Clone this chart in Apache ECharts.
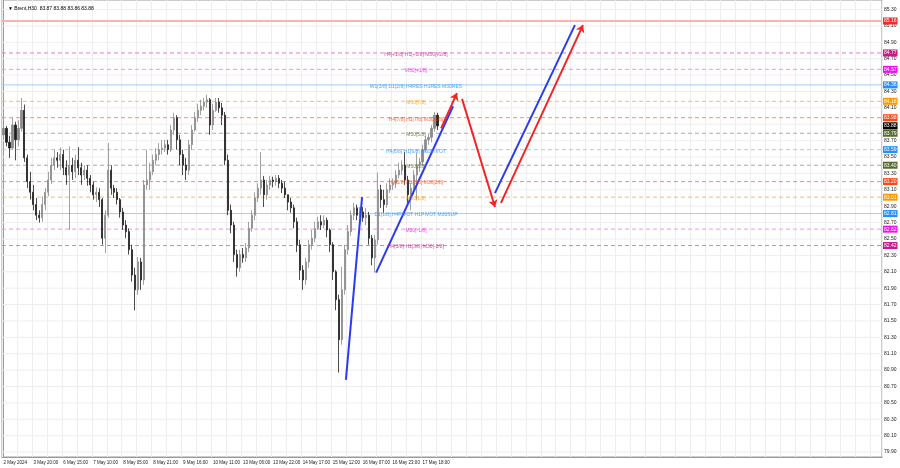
<!DOCTYPE html>
<html><head><meta charset="utf-8">
<script src="https://cdn.jsdelivr.net/npm/echarts@6/dist/echarts.min.js"></script>
<style>html,body{margin:0;padding:0;background:#fff}#c{width:900px;height:468px}</style>
</head><body><div id="c"></div>
<script>
const headerText = '\u25BC Brent,H30  83.87 83.88 83.86 83.88';
const xTickLabels = ['2 May 2024','3 May 20:00','6 May 15:00','7 May 10:00','8 May 05:00','8 May 21:00','9 May 16:00','10 May 11:00','13 May 06:00','13 May 22:00','14 May 17:00','15 May 12:00','16 May 07:00','16 May 23:00','17 May 18:00'];
const slotCount = 294;
const opens = [83.77,83.85,83.68,83.61,83.89,83.71,83.85,84.07,83.49,83.20,
83.07,82.92,82.79,82.76,82.92,83.07,83.22,83.40,83.49,83.46,
83.53,83.37,83.28,83.40,83.32,83.46,83.37,83.28,83.34,83.24,
83.16,83.04,83.07,82.98,82.51,82.79,83.34,83.12,83.07,82.98,
82.83,82.67,82.59,82.37,82.06,81.88,82.22,82.00,83.16,83.22,
83.32,83.46,83.53,83.59,83.61,83.65,83.59,83.83,83.98,83.71,
83.53,83.40,83.34,83.65,83.83,83.98,84.07,84.12,84.17,84.20,
83.89,84.07,84.17,84.10,84.01,83.46,82.85,82.67,82.31,82.15,
82.31,82.27,82.39,82.63,82.79,83.00,83.12,83.22,83.04,83.16,
83.22,83.20,83.24,83.18,83.12,83.04,82.95,82.88,82.71,82.43,
82.12,82.00,82.22,82.43,82.51,82.63,82.71,82.67,82.73,82.61,
82.43,82.10,81.76,81.27,81.88,82.37,82.59,82.79,82.88,82.79,
82.83,82.76,82.79,82.51,82.27,82.49,83.10,82.98,82.92,83.10,
83.16,83.18,83.28,83.34,83.40,83.22,83.04,83.12,83.28,83.40,
83.44,83.59,83.71,83.74,83.85,84.01];
const closes = [83.85,83.68,83.61,83.89,83.71,83.85,84.07,83.49,83.20,83.07,
82.92,82.79,82.76,82.92,83.07,83.22,83.40,83.49,83.46,83.53,
83.37,83.28,83.40,83.32,83.46,83.37,83.28,83.34,83.24,83.16,
83.04,83.07,82.98,82.51,82.79,83.34,83.12,83.07,82.98,82.83,
82.67,82.59,82.37,82.06,81.88,82.22,82.00,83.16,83.22,83.32,
83.46,83.53,83.59,83.61,83.65,83.59,83.83,83.98,83.71,83.53,
83.40,83.34,83.65,83.83,83.98,84.07,84.12,84.17,84.20,83.89,
84.07,84.17,84.10,84.01,83.46,82.85,82.67,82.31,82.15,82.31,
82.27,82.39,82.63,82.79,83.00,83.12,83.22,83.04,83.16,83.22,
83.20,83.24,83.18,83.12,83.04,82.95,82.88,82.71,82.43,82.12,
82.00,82.22,82.43,82.51,82.63,82.71,82.67,82.73,82.61,82.43,
82.10,81.76,81.27,81.88,82.37,82.59,82.79,82.88,82.79,82.83,
82.76,82.79,82.51,82.27,82.49,83.10,82.98,82.92,83.10,83.16,
83.18,83.28,83.34,83.40,83.22,83.04,83.12,83.28,83.40,83.44,
83.59,83.71,83.74,83.85,84.01,83.88];
const highs = [83.92,83.88,83.76,83.98,83.93,83.95,84.22,84.14,83.53,83.32,
83.16,83.00,82.85,83.02,83.12,83.32,83.49,83.59,83.56,83.62,
83.59,83.46,83.63,83.49,83.53,83.62,83.43,83.40,83.40,83.28,
83.20,83.13,83.12,83.00,82.85,83.67,83.40,83.16,83.12,83.00,
82.88,82.73,82.63,82.43,82.15,82.28,82.27,83.22,83.59,83.43,
83.53,83.61,83.67,83.71,83.71,83.71,83.89,84.04,84.01,83.77,
83.59,83.49,83.71,83.89,84.05,84.15,84.20,84.22,84.26,84.22,
84.15,84.22,84.22,84.16,84.05,83.53,82.92,82.71,82.37,82.37,
82.39,82.45,82.71,82.85,83.07,83.18,83.56,83.27,83.22,83.27,
83.26,83.28,83.28,83.22,83.20,83.04,83.00,82.92,82.76,82.49,
82.18,82.27,82.49,82.61,82.71,82.77,82.79,82.79,82.76,82.63,
82.46,82.12,81.82,82.16,82.43,82.67,82.85,82.94,82.92,82.89,
82.89,82.88,82.83,82.55,82.55,83.31,83.16,83.10,83.18,83.24,
83.24,83.34,83.43,83.46,83.56,83.27,83.18,83.34,83.55,83.49,
83.65,83.76,83.79,83.89,84.05,84.04];
const lows = [83.71,83.63,83.49,83.59,83.46,83.63,83.81,83.44,83.12,82.98,
82.85,82.73,82.70,82.71,82.85,83.02,83.17,83.34,83.37,83.34,
83.28,83.16,82.61,83.22,83.24,83.28,83.16,83.22,83.15,83.07,
82.98,82.95,82.89,82.43,82.33,82.76,83.04,83.00,82.92,82.76,
82.61,82.51,82.31,81.98,81.63,81.82,81.88,81.94,83.10,83.10,
83.28,83.40,83.46,83.53,83.56,83.53,83.56,83.77,83.59,83.40,
83.28,83.22,83.28,83.59,83.81,83.93,84.01,84.07,84.10,83.77,
83.83,84.05,84.04,83.89,83.40,82.79,82.57,82.22,82.04,82.10,
82.21,82.22,82.34,82.59,82.73,82.95,83.04,82.89,82.98,83.10,
83.13,83.15,83.12,83.06,83.00,82.85,82.82,82.63,82.34,82.00,
81.88,81.94,82.15,82.37,82.46,82.61,82.61,82.63,82.52,82.34,
82.00,81.63,80.87,81.21,81.82,82.31,82.54,82.73,82.73,82.76,
82.71,82.67,82.43,82.18,82.09,82.43,82.88,82.82,82.88,83.06,
83.10,83.12,83.24,83.28,83.16,82.94,82.85,83.04,82.98,83.32,
83.40,83.56,83.65,83.68,83.81,83.83];
const yTicks = [79.90,80.10,80.30,80.50,80.70,80.90,81.10,81.30,81.50,81.70,81.90,82.10,82.30,82.50,82.70,82.90,83.10,83.30,83.50,83.70,83.90,84.10,84.30,84.50,84.70,84.90,85.10,85.30];
const levelPrices = [85.16,84.77,84.57,84.38,84.18,83.98,83.79,83.59,83.40,83.20,83.01,82.81,82.62,82.42];
const levelTexts = ['','H4[+1/8] H1[+1/8] M30[+2/8]','M30[+1/8]','W1[3/8] D1[2/8] H4RES H1RES M30RES','M30[7/8]','H4[7/8] H1[7/8] M30[6/8]','M30[5/8]','H4[6/8] H1[6/8] M30PIVOT','M30[3/8]','H4[5/8] H1[5/8] M30[2/8]','M30[1/8]','D1[1/8] H4PIVOT H1PIVOT M30SUP','M30[-1/8]','H4[3/8] H1[3/8] M30[-2/8]'];
const levelColors = ['#f42a2a','#c8188c','#f010f0','#2490f8','#ff9800','#ff4814','#556b2f','#2490f8','#556b2f','#ff4814','#ff9800','#2490f8','#f010f0','#c8188c'];
const levelLineColors = ['#ffb0b0','#e07cc4','#ff88ff','#a0ccff','#ffb860','#ff8c68','#aeae98','#a0ccff','#aeae98','#ff8c68','#ffb860','#a0ccff','#ff88ff','#e07cc4'];
const levelLineTypes = ['solid','dashed','dashed','solid','dashed','dashed','dashed','dashed','dashed','dashed','dashed','solid','dashed','dashed'];
const currentPrice = 83.88;
const blueLines = [[[114.4,80.78],[119.8,83.01]],[[124.5,82.09],[150.2,84.12]],[[164.2,83.06],[190.9,85.11]]];
const redArrows = [[[146.2,83.85],[151.5,84.28]],[[153.2,84.21],[164.2,82.89]],[[166.2,82.94],[193.6,85.11]]];
const levelTextSlot = 137.8;

const FONT = 'Liberation Sans';
const categories = [];
for (let i = 0; i < slotCount; i++) categories.push(String(i));
const candleData = opens.map((o, i) => [o, closes[i], lows[i], highs[i]]);
const xLo = -0.5, xHi = slotCount - 0.5;

const boxLabel = (txt, bg) => ({ show: true, distance: 1, formatter: txt, backgroundColor: bg, color: '#ffffff', fontSize: 5, fontFamily: FONT, padding: [1, 1, 0, 1], lineHeight: 6, align: 'left', verticalAlign: 'middle' });

const levelSeries = levelPrices.map((p, k) => ({
  type: 'line', xAxisIndex: 1, yAxisIndex: 0, z: 2, silent: true, symbol: 'none', clip: false,
  data: [[xLo, p], [xHi, p]],
  lineStyle: { color: levelLineColors[k], type: levelLineTypes[k] === 'solid' ? 'solid' : [4, 3], width: k === 0 ? 2 : 1, opacity: 1 },
  endLabel: boxLabel(p.toFixed(2), levelColors[k])
}));
levelSeries.push({
  type: 'line', xAxisIndex: 1, yAxisIndex: 0, z: 2, silent: true, symbol: 'none', clip: false,
  data: [[xLo, currentPrice], [xHi, currentPrice]],
  lineStyle: { width: 0, opacity: 0 },
  endLabel: boxLabel(currentPrice.toFixed(2), '#000000')
});
const gridSeries = yTicks.map(v => ({
  type: 'line', xAxisIndex: 1, yAxisIndex: 0, z: 1, silent: true, symbol: 'none',
  data: [[xLo, v], [xHi, v]], lineStyle: { color: '#eeeeee', width: 1 }
}));

const textData = [];
levelTexts.forEach((t, k) => {
  if (t) textData.push({ value: [levelTextSlot, levelPrices[k], t], label: { color: levelColors[k] } });
});

const chart = echarts.init(document.getElementById('c'), null, { renderer: 'canvas' });
chart.setOption({
  animation: false,
  backgroundColor: '#ffffff',
  title: { text: headerText, left: 3, top: 1, textStyle: { fontSize: 5, fontWeight: 'normal', color: '#000', fontFamily: FONT } },
  grid: { left: 2, right: 18, top: 0, bottom: 11, show: true, borderColor: '#9a9a9a', borderWidth: 1 },
  xAxis: [
    { type: 'category', data: categories, boundaryGap: true,
      axisLine: { show: true, lineStyle: { color: '#9a9a9a' } }, axisTick: { show: false },
      axisLabel: { interval: 9, align: 'left', margin: 3, fontSize: 4.5, color: '#222', fontFamily: FONT,
        formatter: (v, idx) => (idx % 10 === 0 && xTickLabels[idx / 10]) ? xTickLabels[idx / 10] : '' },
      splitLine: { show: true, interval: 4, lineStyle: { color: '#eeeeee', width: 1 } } },
    { type: 'value', min: xLo, max: xHi, show: false }
  ],
  yAxis: { type: 'value', position: 'right', min: 79.84, max: 85.416,
    axisLine: { show: true, lineStyle: { color: '#9a9a9a' } }, axisTick: { show: false },
    splitLine: { show: false },
    axisLabel: { customValues: yTicks, formatter: v => v.toFixed(2), fontSize: 5, color: '#222', margin: 2, fontFamily: FONT } },
  series: [].concat(gridSeries, levelSeries, [
    { type: 'candlestick', data: candleData, z: 3, barWidth: 1.6,
      itemStyle: { color: '#8a8a8a', color0: '#1e1e1e', borderColor: '#8a8a8a', borderColor0: '#1e1e1e', borderWidth: 0.8 } },
    { type: 'lines', coordinateSystem: 'cartesian2d', xAxisIndex: 1, yAxisIndex: 0, z: 6, silent: true,
      symbol: ['none', 'none'],
      lineStyle: { color: '#2a3cf2', width: 2, opacity: 1, curveness: 0 },
      data: blueLines.map(c => ({ coords: c })) },
    { type: 'lines', coordinateSystem: 'cartesian2d', xAxisIndex: 1, yAxisIndex: 0, z: 6, silent: true,
      symbol: ['none', 'arrow'], symbolSize: 7,
      lineStyle: { color: '#f42424', width: 2, opacity: 1, curveness: 0 },
      data: redArrows.map(c => ({ coords: c })) },
    { type: 'scatter', xAxisIndex: 1, yAxisIndex: 0, z: 7, silent: true, symbolSize: 1,
      itemStyle: { color: 'rgba(0,0,0,0)' },
      label: { show: true, position: 'inside', offset: [0, 1.5], fontSize: 5, fontFamily: FONT, formatter: p => p.value[2] },
      data: textData }
  ])
});
</script></body></html>
